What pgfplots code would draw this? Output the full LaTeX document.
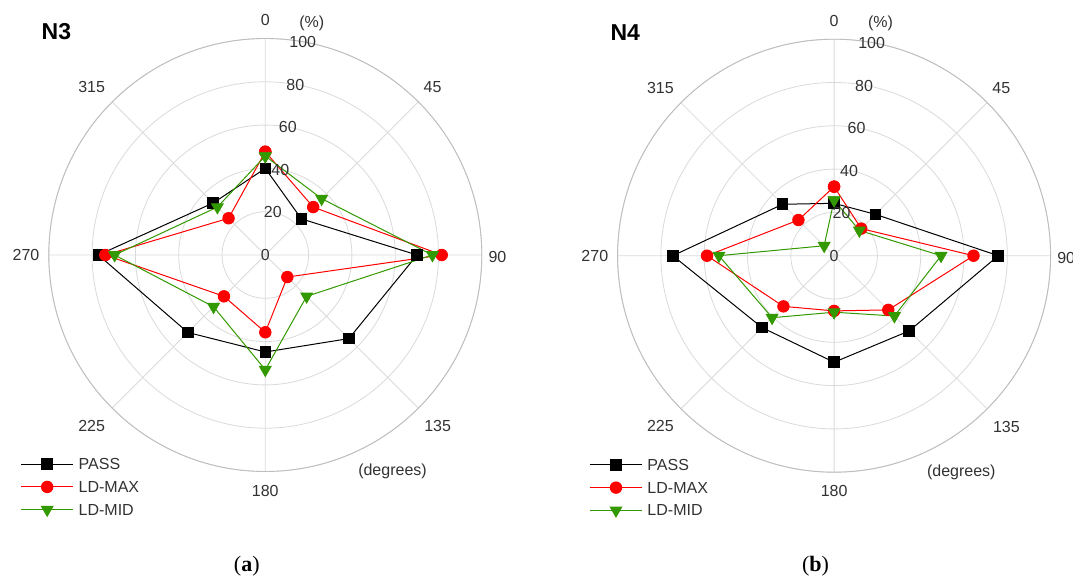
\documentclass[border=0pt]{standalone}
\usepackage{pgfplots}
\pgfplotsset{compat=1.18}
\usepgfplotslibrary{polar}
\usepackage{pgfplotstable}
\usepackage{fontspec}
\setmainfont{Liberation Sans}
\newfontfamily\capfont{Liberation Serif}
\definecolor{mgreen}{RGB}{51,153,0}
\definecolor{gridc}{RGB}{218,218,218}
\definecolor{outerc}{RGB}{190,190,190}
\definecolor{labc}{RGB}{50,50,50}

% angle (degrees, clockwise from top), radial values in percent
\pgfplotstableread{
a   pass  ldmax  ldmid
0   40.0  47.7   45.7
45  23.6  31.3   36.8
90  70.1  81.5   77.2
135 54.6  14.4   27.0
180 44.8  35.7   53.0
225 50.6  27.0   33.8
270 77.1  73.9   69.6
315 34.0  24.0   31.3
360 40.0  47.7   45.7
}\dataA
\pgfplotstableread{
a   pass  ldmax  ldmid
0   24.2  31.9   25.7
45  27.0  17.7   16.5
90  75.8  64.4   49.4
135 49.1  35.4   39.4
180 49.2  25.5   26.1
225 47.0  33.1   40.5
270 74.5  58.7   53.2
315 33.6  23.3   6.5
360 24.2  31.9   25.7
}\dataB

\pgfplotsset{
  rose/.style={
    scale only axis, width=433pt, height=433pt,
    xmin=0, xmax=360, ymin=0, ymax=100,
    xtick={0,45,...,315}, ytick={0,20,...,100},
    xticklabels={,,,,,,,}, yticklabels={,,,,,,},
    xticklabel style={text opacity=0}, yticklabel style={text opacity=0},
    grid=major, major grid style={draw=gridc, line width=0.8pt},
    x axis line style={draw=outerc, line width=0.9pt},
    y axis line style={draw=none},
    major tick length=0pt,
    clip=false,
    x filter/.expression={mod(450-x,360)},
    legend image code/.code={\draw[mark repeat=2,mark phase=2,##1] plot coordinates {(0pt,0pt) (26pt,0pt) (52pt,0pt)};},
    legend style={draw=none, fill=none, inner sep=0pt, anchor=north west,
      at={(-0.0654,0.030)}, row sep=11.5pt, column sep=5pt,
      font=\fontsize{16}{19}\selectfont,
      nodes={inner sep=0pt, text height=11pt, text depth=0pt, text=labc}},
    legend cell align=left,
    /tikz/every odd column/.append style={column sep=5pt},
  },
  pass/.style={black, line width=1pt, mark=square*, mark size=5.3pt},
  ldmax/.style={red, line width=1pt, mark=*, mark size=5.7pt},
  ldmid/.style={mgreen, line width=1pt, mark=triangle*, mark size=6.6pt, mark options={rotate=180}},
}

\newcommand\decor[4]{% cx, cy, title, caption letter
  \begin{scope}[font=\fontsize{16}{19}\selectfont, every node/.style={text=labc, inner sep=0pt}]
    \node at ({#1},{#2+235}) {0};
    \node at ({#1+46.5},{#2+232}) {(\%)};
    \node at ({#1+167.2},{#2+168}) {45};
    \node at ({#1+232.1},{#2-2}) {90};
    \node at ({#1+172.3},{#2-171}) {135};
    \node at ({#1},{#2-235.7}) {180};
    \node at ({#1-173.7},{#2-170.7}) {225};
    \node at ({#1-239.3},{#2}) {270};
    \node at ({#1-173.7},{#2+168}) {315};
    \node at ({#1+127.2},{#2-216.3}) {(degrees)};
    \foreach \r in {0,20,40,60,80,100} {
      \node at ({#1+0.375*\r},{#2+2.127*\r}) {\r};
    }
  \end{scope}
  \node[font=\fontsize{23}{27}\selectfont\bfseries, inner sep=0pt] at ({#1-208.9},{#2+223}) {#3};
  \node[font=\capfont\fontsize{22}{26}\selectfont, inner sep=0pt] at ({#1-18.5},{#2-311}) {(\textbf{#4})};
}

\begin{document}
\begin{tikzpicture}[x=1pt,y=1pt]
\useasboundingbox (0,0) rectangle (1073,576);
\begin{polaraxis}[rose, at={(265.3pt,321pt)}, anchor=center]
\addplot[pass] table[x=a,y=pass]{\dataA};
\addplot[ldmax] table[x=a,y=ldmax]{\dataA};
\addplot[ldmid] table[x=a,y=ldmid]{\dataA};
\legend{PASS,LD-MAX,LD-MID}
\end{polaraxis}
\decor{265.3}{321}{N3}{a}
\begin{polaraxis}[rose, at={(834.1pt,320.3pt)}, anchor=center]
\addplot[pass] table[x=a,y=pass]{\dataB};
\addplot[ldmax] table[x=a,y=ldmax]{\dataB};
\addplot[ldmid] table[x=a,y=ldmid]{\dataB};
\legend{PASS,LD-MAX,LD-MID}
\end{polaraxis}
\decor{834.1}{320.3}{N4}{b}
\end{tikzpicture}
\end{document}
